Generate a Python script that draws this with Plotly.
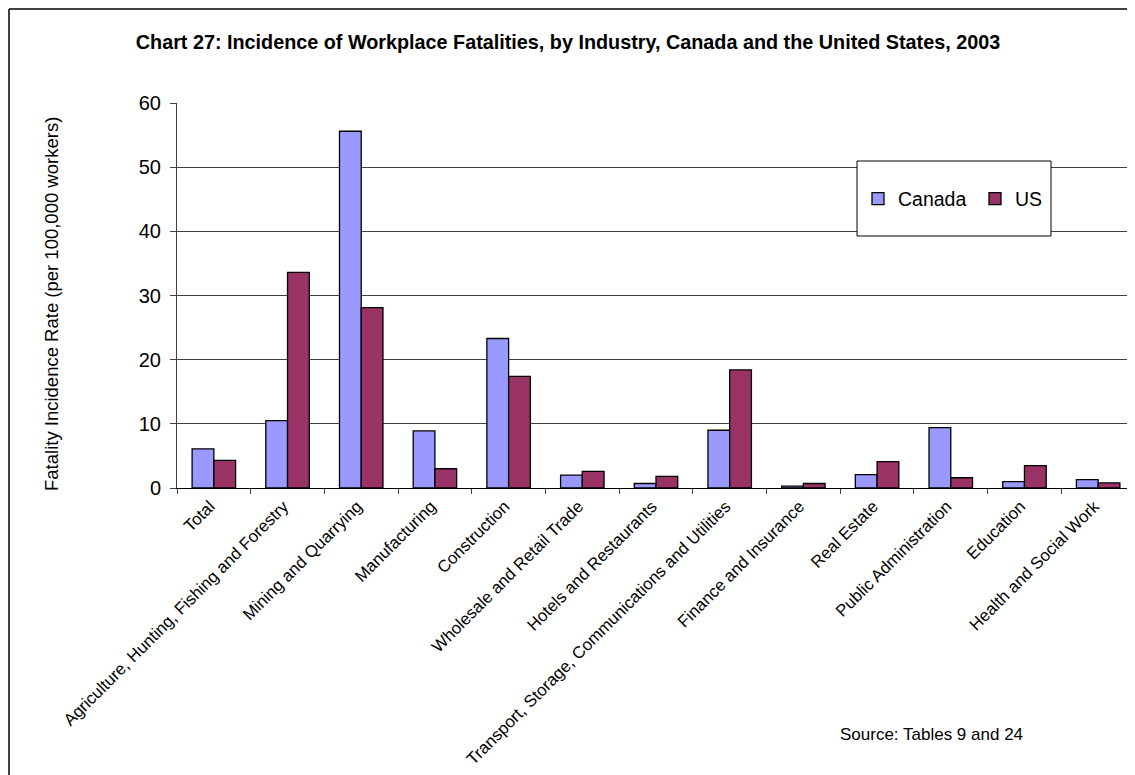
import plotly.graph_objects as go

categories = [
    "Total",
    "Agriculture, Hunting, Fishing and Forestry",
    "Mining and Quarrying",
    "Manufacturing",
    "Construction",
    "Wholesale and Retail Trade",
    "Hotels and Restaurants",
    "Transport, Storage, Communications and Utilities",
    "Finance and Insurance",
    "Real Estate",
    "Public Administration",
    "Education",
    "Health and Social Work",
]
canada = [6.1, 10.5, 55.6, 8.9, 23.3, 2.0, 0.7, 9.0, 0.3, 2.1, 9.4, 1.0, 1.3]
us = [4.3, 33.6, 28.1, 3.0, 17.4, 2.6, 1.8, 18.4, 0.7, 4.1, 1.6, 3.5, 0.8]

FONT = "Liberation Sans, Arial, sans-serif"
OFF = 8  # default page margin of the html body
W, H = 1135 - OFF, 775 - OFF
# plot area in page pixels: x 177..1135, y 103..488
L, T = 177 - OFF, 103 - OFF
R = 0
B = H - (488 - OFF)
PW, PH = W - L - R, H - T - B


def px_x(x):
    return (x - OFF - L) / PW


def px_y(y):
    return (H - B - (y - OFF)) / PH


fig = go.Figure()
fig.add_trace(go.Bar(name="Canada", x=categories, y=canada,
                     marker=dict(color="#9999FF", line=dict(color="black", width=1.3))))
fig.add_trace(go.Bar(name="US", x=categories, y=us,
                     marker=dict(color="#993366", line=dict(color="black", width=1.3))))

shapes = [
    # legend box
    dict(type="rect", xref="paper", yref="paper",
         x0=px_x(857), x1=px_x(1051), y0=px_y(236), y1=px_y(161),
         line=dict(color="black", width=1), fillcolor="white", layer="above"),
    # outer chart border (left and top visible)
    dict(type="line", xref="paper", yref="paper",
         x0=px_x(OFF + 1), x1=px_x(OFF + 1), y0=px_y(OFF + 1), y1=px_y(800),
         line=dict(color="black", width=1.5)),
    dict(type="line", xref="paper", yref="paper",
         x0=px_x(OFF + 1), x1=px_x(1200), y0=px_y(OFF + 1), y1=px_y(OFF + 1),
         line=dict(color="black", width=1.5)),
]

fig.update_layout(
    width=W, height=H,
    margin=dict(l=L, r=R, t=T, b=B, autoexpand=False),
    paper_bgcolor="white", plot_bgcolor="white",
    font=dict(family=FONT, color="black", size=17),
    barmode="group", bargap=0.41, bargroupgap=0,
    title=dict(text="<b>Chart 27: Incidence of Workplace Fatalities, by Industry, Canada and the United States, 2003</b>",
               x=px_x(568), xref="paper", xanchor="center", y=1 - (42 - OFF) / H, yanchor="middle",
               font=dict(family=FONT, size=19.8, color="black")),
    showlegend=True,
    legend=dict(orientation="h", x=px_x(858), y=px_y(199), xanchor="left", yanchor="middle",
                bgcolor="rgba(0,0,0,0)", borderwidth=0, font=dict(size=19.5, family=FONT),
                entrywidth=72, traceorder="normal"),
    shapes=shapes,
    annotations=[
        dict(text="Source: Tables 9 and 24", xref="paper", yref="paper",
             x=px_x(838), y=px_y(734), xanchor="left", yanchor="middle",
             showarrow=False, font=dict(size=17, family=FONT)),
        dict(text="Fatality Incidence Rate (per 100,000 workers)", xref="paper", yref="paper",
             x=px_x(51), y=px_y(304), xanchor="center", yanchor="middle", textangle=-90,
             showarrow=False, font=dict(size=18.5, family=FONT)),
    ],
)

fig.update_xaxes(
    type="category", showline=True, linecolor="black", linewidth=1,
    ticks="outside", tickson="boundaries", ticklen=5, tickcolor="#404040",
    tickangle=-45, tickfont=dict(size=16.8, family=FONT), showgrid=False,
    ticklabelstandoff=1, ticklabelshift=-4, automargin=False,
)
fig.update_yaxes(
    range=[0, 60], dtick=10, showline=True, linecolor="#404040", linewidth=1,
    ticks="outside", ticklen=6, tickcolor="#404040",
    showgrid=True, gridcolor="#404040", gridwidth=1, zeroline=False,
    tickfont=dict(size=20, family=FONT), ticklabelstandoff=5, automargin=False,
)

fig.write_html("out.html")
